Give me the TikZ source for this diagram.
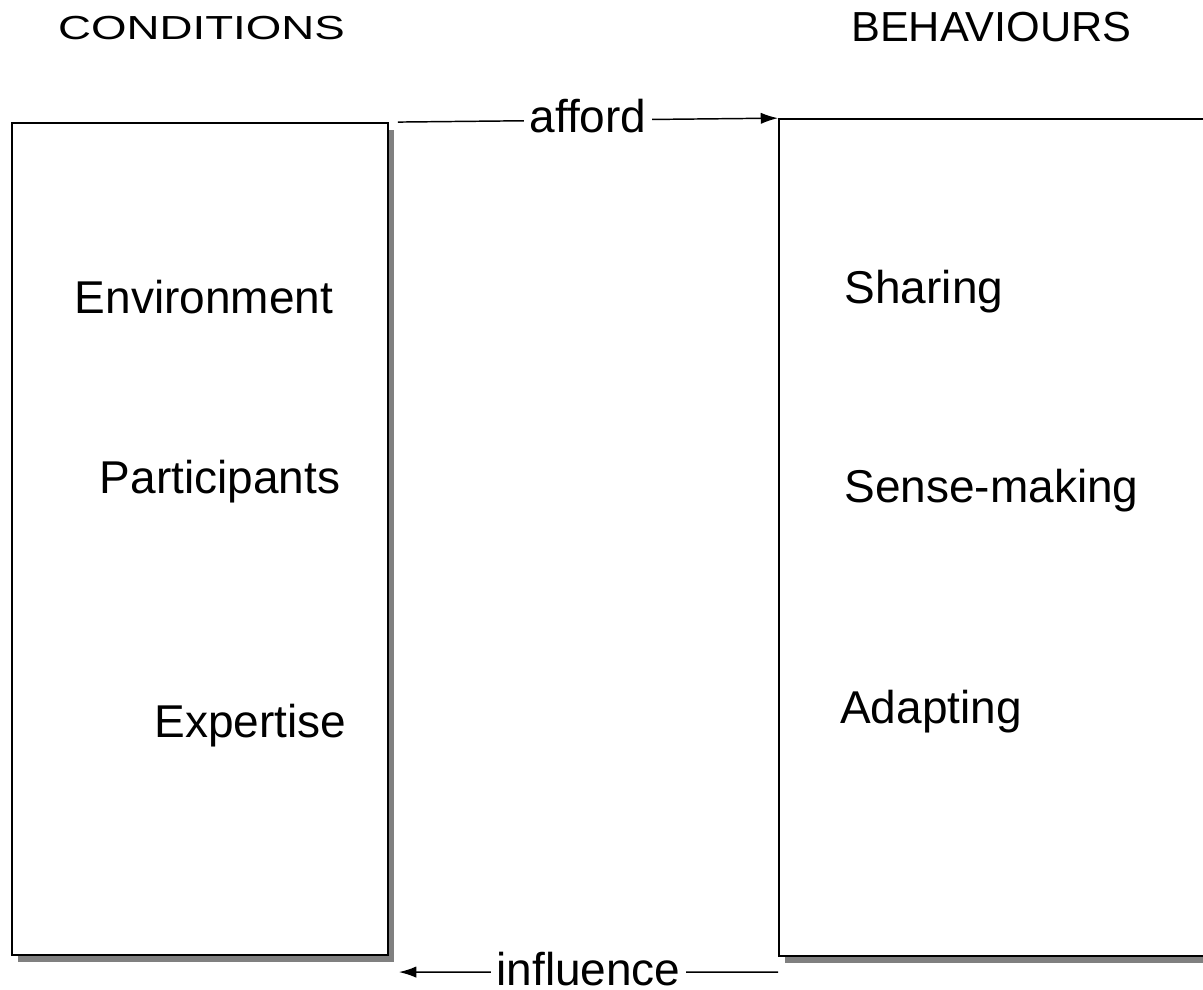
\documentclass[tikz,border=0pt]{standalone}
\usepackage{fontspec}
\setmainfont{Liberation Sans}
\usetikzlibrary{arrows.meta,shadows}
\begin{document}
\begin{tikzpicture}[x=0.75pt,y=-0.75pt,
  box/.style={draw=black,line width=1.4pt,fill=white,rectangle,inner sep=0pt,
    drop shadow={shadow xshift=4.5pt,shadow yshift=-5pt,fill=black!50,opacity=1}},
  txt/.style={inner sep=0pt,anchor=base,font=\fontsize{34.5}{40}\selectfont},
  conn/.style={line width=1.1pt,-{Latex[length=13pt,width=8.5pt]}},
  lbl/.style={fill=white,inner sep=0pt,inner xsep=4pt,anchor=base,font=\fontsize{34.5}{40}\selectfont}]
\clip (0,0) rectangle (1203,989);
\fill[white] (0,0) rectangle (1203,989);
% boxes
\node[box,minimum width=282pt,minimum height=624pt] (L) at (200,539) {};
\node[box,minimum width=375pt,minimum height=628pt] (R) at (1029,537.75) {};
% headers
\node[inner sep=0pt,anchor=base,font=\fontsize{25}{30}\selectfont,xscale=1.37] (hc) at (201.5,39.5) {CONDITIONS};
\node[inner sep=0pt,anchor=base,font=\fontsize{31.5}{36}\selectfont,xscale=1.03] (hb) at (991.5,41.7) {BEHAVIOURS};
% items
\node[txt] (env) at (204,313.3) {Environment};
\node[txt] (par) at (220,493) {Participants};
\node[txt] (exp) at (250.5,737) {Expertise};
\node[txt] (sha) at (924,303) {Sharing};
\node[txt] (sen) at (991.5,502) {Sense-making};
\node[txt] (ada) at (931,723) {Adapting};
% connectors
\draw[conn] ([xshift=6.75pt]L.north east) -- (R.north west)
  node[lbl,midway,yshift=-9pt] (aff) {afford};
\draw[conn] ([yshift=-11pt]R.south west) -- ([xshift=7.5pt,yshift=-12.1pt]L.south east)
  node[lbl,midway,yshift=-9.8pt] (inf) {influence};
\end{tikzpicture}
\end{document}
